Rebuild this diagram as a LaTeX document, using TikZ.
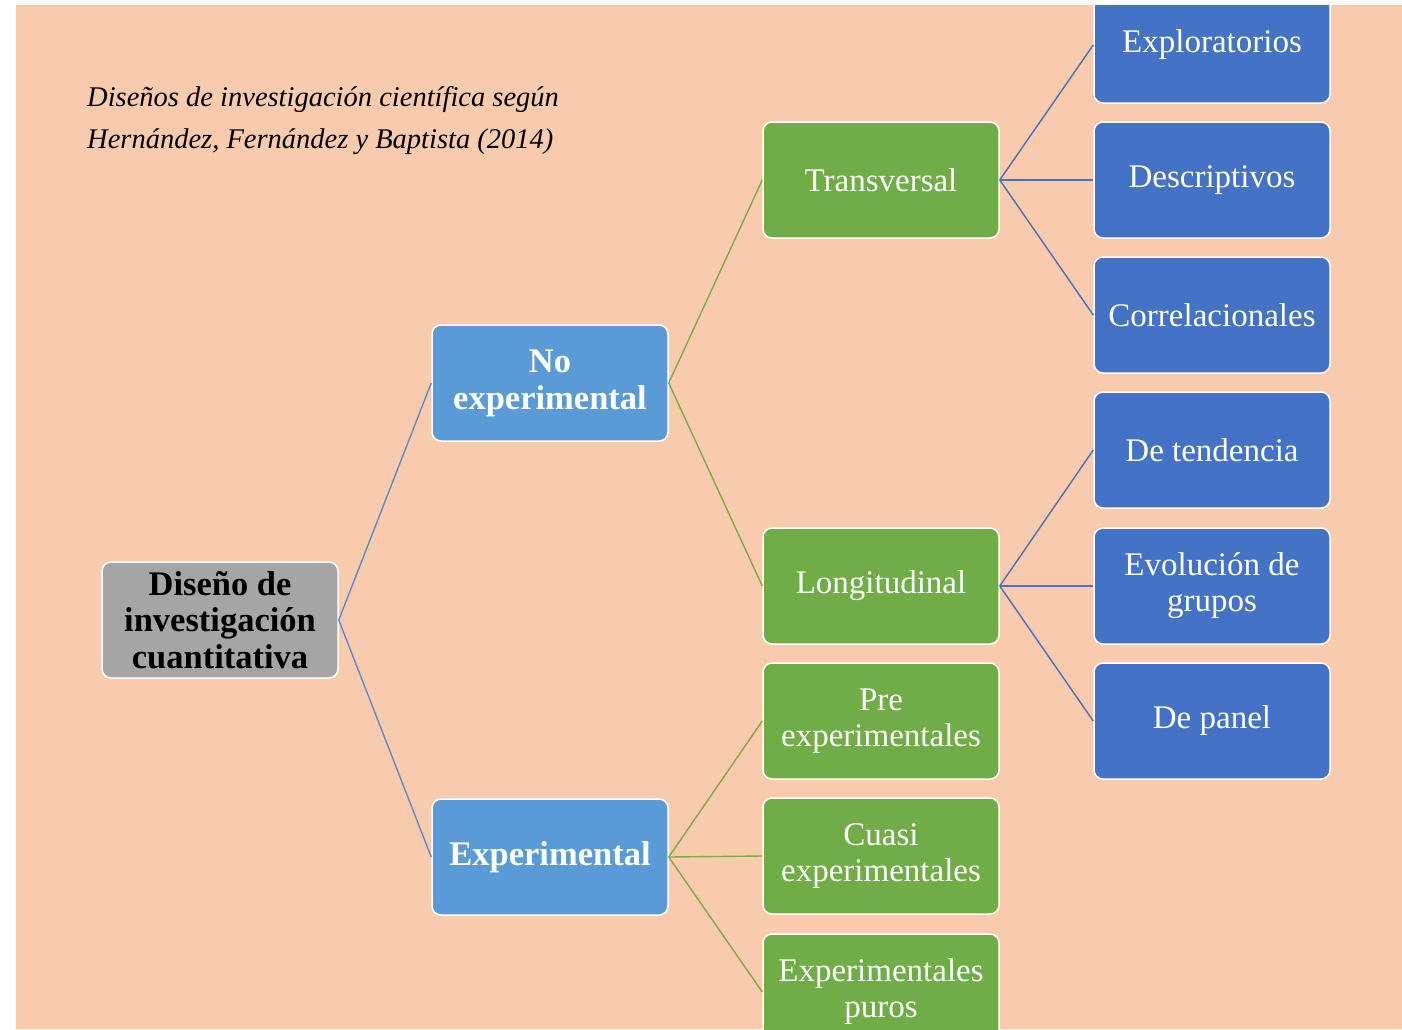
\documentclass[tikz,border=0pt]{standalone}
\usepackage{fontspec}
\setmainfont{Liberation Serif}
\usepackage{tikz}
\definecolor{peach}{HTML}{F8CBAD}
\definecolor{rootgray}{HTML}{A5A5A5}
\definecolor{lblue}{HTML}{5B9BD5}
\definecolor{fgreen}{HTML}{70AD47}
\definecolor{dblue}{HTML}{4472C4}
\definecolor{rootline}{HTML}{5E8CCB}
\definecolor{greenline}{HTML}{7EAA48}
\definecolor{blueline}{HTML}{4B6FBA}

\begin{document}
\begin{tikzpicture}[x=1pt,y=-1pt,
  box/.style={draw=white,line width=1.5pt,rounded corners=9pt,minimum width=236pt,
    minimum height=116pt,inner sep=0pt,align=center,text=white,
    font=\fontsize{33}{36}\selectfont},
  rootbox/.style={box,fill=rootgray,text=black,font=\fontsize{34.5}{36.5}\selectfont\bfseries},
  midbox/.style={box,fill=lblue,font=\fontsize{34.5}{37}\selectfont\bfseries},
  greenbox/.style={box,fill=fgreen},
  bluebox/.style={box,fill=dblue},
  link/.style={line width=1.4pt}]
\useasboundingbox (0,0) rectangle (1402,1029);
\fill[peach] (16,5) rectangle (1402,1029);

\node[anchor=north west,inner sep=0pt,align=left,font=\fontsize{28.5}{42}\selectfont\itshape] (title) at (87,86)
  {Diseños de investigación científica según\\Hernández, Fernández y Baptista (2014)};

\begin{scope}
\clip (16,5) rectangle (1402,1029);
\node[rootbox] (root) at (220,620) {Diseño de\\investigación\\cuantitativa};

\node[midbox] (noexp) at (550,383) {No\\experimental};
\node[midbox] (exp) at (550,857) {Experimental};

\node[greenbox] (trans) at (881,180) {Transversal};
\node[greenbox] (longi) at (881,586) {Longitudinal};
\node[greenbox] (pre) at (881,721) {Pre\\experimentales};
\node[greenbox] (cuasi) at (881,856) {Cuasi\\experimentales};
\node[greenbox] (puros) at (881,992) {Experimentales\\puros};

\node[bluebox] (explo) at (1212,45) {Exploratorios};
\node[bluebox] (descr) at (1212,180) {Descriptivos};
\node[bluebox] (corre) at (1212,315) {Correlacionales};
\node[bluebox] (tend) at (1212,450) {De tendencia};
\node[bluebox] (evol) at (1212,586) {Evolución de\\grupos};
\node[bluebox] (panel) at (1212,721) {De panel};

\draw[link,rootline] (root.east) -- (noexp.west);
\draw[link,rootline] (root.east) -- (exp.west);

\draw[link,greenline] (noexp.east) -- (trans.west);
\draw[link,greenline] (noexp.east) -- (longi.west);
\draw[link,greenline] (exp.east) -- (pre.west);
\draw[link,greenline] (exp.east) -- (cuasi.west);
\draw[link,greenline] (exp.east) -- (puros.west);

\draw[link,blueline] (trans.east) -- (explo.west);
\draw[link,blueline] (trans.east) -- (descr.west);
\draw[link,blueline] (trans.east) -- (corre.west);
\draw[link,blueline] (longi.east) -- (tend.west);
\draw[link,blueline] (longi.east) -- (evol.west);
\draw[link,blueline] (longi.east) -- (panel.west);
\end{scope}
\end{tikzpicture}
\end{document}
